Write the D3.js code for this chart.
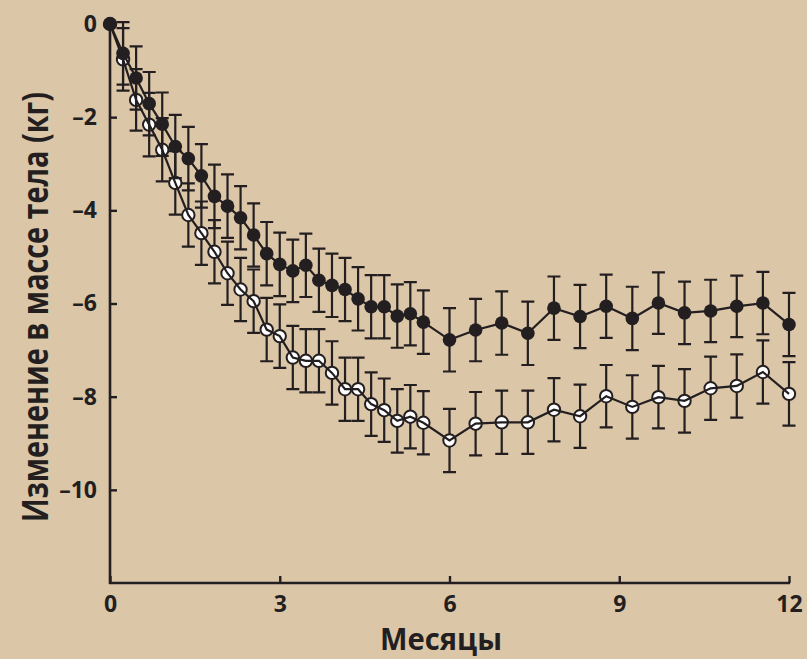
<!DOCTYPE html>
<html>
<head>
<meta charset="utf-8">
<script src="https://cdn.jsdelivr.net/npm/d3@7"></script>
<style>
html,body{margin:0;padding:0;background:#dcc6a8;}
svg{display:block;}
</style>
</head>
<body>
<div id="chart"></div>
<script>
// ---- data ----
const weeks = [0,1,2,3,4,5,6,7,8,9,10,11,12,13,14,15,16,17,18,19,20,21,22,23,24,26,28,30,32,34,36,38,40,42,44,46,48,50,52];
const filledValues = [0,-0.63,-1.16,-1.71,-2.15,-2.63,-2.89,-3.26,-3.70,-3.91,-4.16,-4.53,-4.93,-5.16,-5.30,-5.18,-5.50,-5.61,-5.70,-5.90,-6.07,-6.07,-6.27,-6.22,-6.40,-6.78,-6.57,-6.42,-6.64,-6.10,-6.28,-6.06,-6.32,-5.99,-6.20,-6.16,-6.06,-5.99,-6.45];
const filledErrors = [0,0.67,0.68,0.68,0.68,0.68,0.68,0.68,0.68,0.68,0.68,0.68,0.68,0.68,0.67,0.68,0.68,0.68,0.68,0.68,0.68,0.68,0.68,0.68,0.68,0.68,0.67,0.68,0.68,0.68,0.68,0.68,0.68,0.66,0.67,0.67,0.66,0.67,0.68];
const openValues = [0,-0.76,-1.63,-2.16,-2.70,-3.41,-4.10,-4.49,-4.89,-5.35,-5.70,-5.95,-6.56,-6.70,-7.16,-7.23,-7.23,-7.49,-7.84,-7.84,-8.16,-8.29,-8.52,-8.43,-8.56,-8.94,-8.58,-8.55,-8.55,-8.28,-8.42,-7.99,-8.22,-8.01,-8.09,-7.82,-7.77,-7.47,-7.94];
const openErrors = [0,0.67,0.66,0.68,0.68,0.68,0.68,0.68,0.68,0.68,0.68,0.68,0.68,0.68,0.68,0.68,0.68,0.68,0.68,0.68,0.68,0.68,0.68,0.68,0.68,0.68,0.68,0.68,0.68,0.68,0.68,0.67,0.68,0.67,0.68,0.68,0.68,0.68,0.68];
const xTickWeeks = [0,13,26,39,52];
const xTickLabels = ["0","3","6","9","12"];
const yTickValues = [0,-2,-4,-6,-8,-10];
const yTickLabels = ["0","\u20132","\u20134","\u20136","\u20138","\u201310"];
const yTitle = "Изменение в массе тела (кг)";
const xTitle = "Месяцы";

// ---- chart ----
const W = 807, H = 659;
const ink = "#231f20";
const bg = "#dcc6a8";
const font = "'Open Sans', 'Noto Sans', sans-serif";

const svg = d3.select("#chart").append("svg").attr("width", W).attr("height", H);
svg.append("rect").attr("width", W).attr("height", H).attr("fill", bg);

const x = d3.scaleLinear().domain([0, 52]).range([110, 789]);
const y = d3.scaleLinear().domain([-12, 0]).range([583, 24]);

// axes
const xAxis = d3.axisBottom(x).tickValues(xTickWeeks)
  .tickFormat((d, i) => xTickLabels[i]).tickSizeInner(-7).tickSizeOuter(0).tickPadding(13);
const yAxis = d3.axisLeft(y).tickValues(yTickValues)
  .tickFormat((d, i) => yTickLabels[i]).tickSizeInner(-7).tickSizeOuter(0).tickPadding(13);

const gx = svg.append("g").attr("transform", "translate(0,583)").call(xAxis);
const gy = svg.append("g").attr("transform", "translate(110,0)").call(yAxis);
[gx, gy].forEach(g => {
  g.select(".domain").attr("stroke", ink).attr("stroke-width", 2.6);
  g.selectAll(".tick line").attr("stroke", ink).attr("stroke-width", 2.4);
  g.selectAll(".tick text").attr("fill", ink).attr("font-family", font)
    .attr("font-weight", 700).attr("font-size", 23);
});
gx.select(".domain").attr("d", "M109,0H790");
gy.select(".domain").attr("d", "M0,18V584");

// titles
svg.append("text").attr("transform", "translate(48,307) rotate(-90)")
  .attr("text-anchor", "middle")
  .attr("font-family", font).attr("font-weight", 700).attr("font-size", 35)
  .attr("fill", ink).attr("textLength", 430).attr("lengthAdjust", "spacingAndGlyphs")
  .text(yTitle);
svg.append("text").attr("x", 441).attr("y", 650)
  .attr("text-anchor", "middle")
  .attr("font-family", font).attr("font-weight", 700).attr("font-size", 31)
  .attr("fill", ink).attr("textLength", 122).attr("lengthAdjust", "spacingAndGlyphs")
  .text(xTitle);

function series(values, errors, filled) {
  const data = weeks.map((w, i) => ({w, v: values[i], e: errors[i]}));
  const g = svg.append("g");
  const cap = 6.5;
  const eb = g.append("g").attr("stroke", ink).attr("stroke-width", 2.2).attr("fill", "none");
  data.filter(d => d.e > 0).forEach(d => {
    const cx = x(d.w), y1 = y(d.v + d.e), y2 = y(d.v - d.e);
    eb.append("path").attr("d", `M${cx},${y1}V${y2}M${cx - cap},${y1}H${cx + cap}M${cx - cap},${y2}H${cx + cap}`);
  });
  const line = d3.line().x(d => x(d.w)).y(d => y(d.v));
  if (filled) {
    g.append("path").datum(data).attr("d", line).attr("fill", "none").attr("stroke", ink).attr("stroke-width", 2.2);
    g.selectAll("circle").data(data).join("circle")
      .attr("cx", d => x(d.w)).attr("cy", d => y(d.v)).attr("r", 6.8).attr("fill", ink);
  } else {
    g.selectAll("circle").data(data).join("circle")
      .attr("cx", d => x(d.w)).attr("cy", d => y(d.v)).attr("r", 6.2)
      .attr("fill", "#ffffff").attr("stroke", ink).attr("stroke-width", 2);
    g.append("path").datum(data).attr("d", line).attr("fill", "none").attr("stroke", ink).attr("stroke-width", 2.2);
  }
}
series(openValues, openErrors, false);
series(filledValues, filledErrors, true);
</script>
</body>
</html>
